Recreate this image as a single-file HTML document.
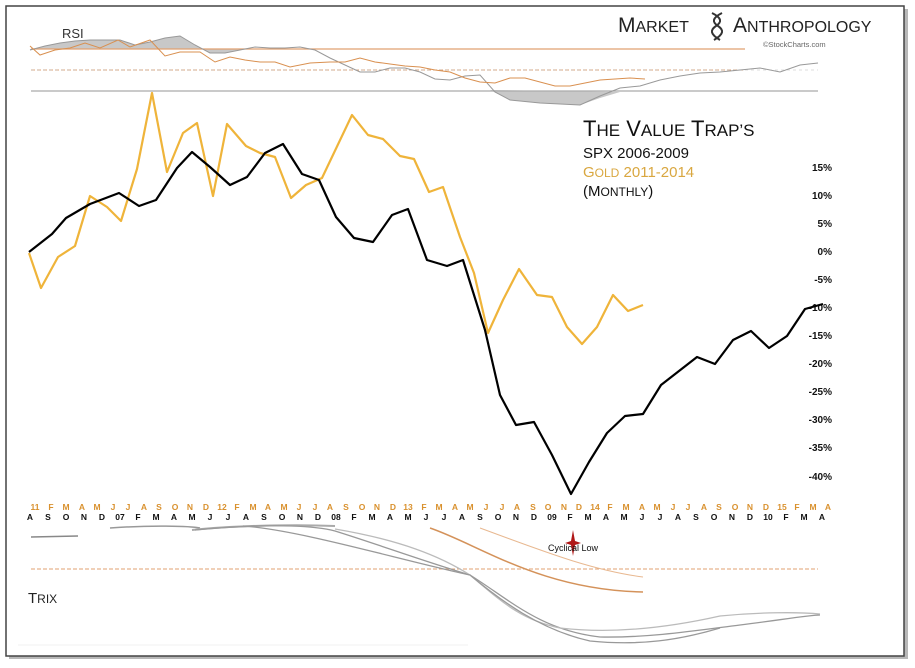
<!DOCTYPE html>
<html><head><meta charset="utf-8"><style>
body{margin:0;background:#fff;width:915px;height:668px;overflow:hidden}
svg{display:block}
text{font-family:"Liberation Sans",sans-serif}
</style></head><body>
<svg width="915" height="668" viewBox="0 0 915 668">
<rect x="9" y="9" width="899" height="650" fill="#b8b8b8"/>
<rect x="6" y="6" width="898" height="650" fill="#fff" stroke="#444" stroke-width="1.5"/>
<!-- RSI panel -->
<path d="M30,50 L45,46 L60,43 L75,41 L90,40 L105,40 L120,40 L135,45 L150,42 L165,38 L180,36 L195,45 L210,53 L225,53 L240,50 L250,49 L30,49 Z" fill="#c8c8c8"/>
<path d="M490,90 L510,100 L540,103 L580,105 L600,98 L620,92 Z" fill="#c8c8c8"/>
<line x1="31" y1="49" x2="745" y2="49" stroke="#e0a070" stroke-width="1.2"/>
<line x1="31" y1="70" x2="745" y2="70" stroke="#e0a070" stroke-width="1" stroke-dasharray="4,2"/>
<line x1="31" y1="91" x2="818" y2="91" stroke="#aaa" stroke-width="1.2"/>
<line x1="31" y1="70" x2="818" y2="70" stroke="#bbb" stroke-width="0.6" stroke-dasharray="3,3"/>
<polyline fill="none" stroke="#999" stroke-width="1" points="30,50 45,46 60,43 75,41 90,40 105,40 120,40 135,45 150,42 165,38 180,36 195,45 210,53 225,53 240,50 255,47 270,48 285,48 300,47 315,50 330,58 345,65 360,72 375,72 390,68 405,68 420,72 435,79 450,80 465,76 480,75 495,92 510,100 540,103 580,105 600,96 620,88 640,86 660,80 680,76 700,73 720,72 740,70 760,68 780,72 800,65 818,63"/>
<polyline fill="none" stroke="#d99050" stroke-width="1" points="30,46 40,55 55,50 70,48 85,43 100,48 118,40 130,47 150,40 165,56 180,52 200,52 215,62 230,57 245,60 260,62 275,62 290,67 310,63 330,62 345,62 360,58 375,62 390,64 405,66 420,67 435,70 450,72 465,78 480,82 495,83 510,78 525,78 540,82 555,86 570,86 585,83 600,80 615,79 630,78 645,79"/>
<text x="62" y="38" font-size="13" fill="#333">RSI</text>
<!-- title logo -->
<text x="618" y="32" font-family="Liberation Serif,serif" font-size="21" fill="#222">M<tspan font-size="16">ARKET</tspan></text>
<path d="M712,13 C722,18 722,22 716,26 C710,30 710,34 720,40 M722,13 C712,18 712,22 718,26 C724,30 724,34 714,40" stroke="#333" stroke-width="2" fill="none"/>
<text x="733" y="32" font-family="Liberation Serif,serif" font-size="21" fill="#222">A<tspan font-size="16">NTHROPOLOGY</tspan></text>
<text x="763" y="47" font-size="7.5" fill="#666">©StockCharts.com</text>
<!-- text block -->
<text x="583" y="136" font-family="Liberation Serif,serif" font-size="22" fill="#111">T<tspan font-size="17">HE</tspan> V<tspan font-size="17">ALUE</tspan> T<tspan font-size="17">RAP’S</tspan></text>
<text x="583" y="158" font-size="15" fill="#111">SPX 2006-2009</text>
<text x="583" y="177" font-size="15" fill="#d9a740">G<tspan font-size="12">OLD</tspan> 2011-2014</text>
<text x="583" y="196" font-size="15" fill="#111">(M<tspan font-size="12">ONTHLY</tspan>)</text>
<!-- right axis -->
<g font-size="10" font-weight="bold" fill="#111" text-anchor="end">
<text x="832" y="171">15%</text><text x="832" y="199">10%</text><text x="832" y="227">5%</text><text x="832" y="255">0%</text><text x="832" y="283">-5%</text><text x="832" y="311">-10%</text><text x="832" y="339">-15%</text><text x="832" y="367">-20%</text><text x="832" y="395">-25%</text><text x="832" y="423">-30%</text><text x="832" y="451">-35%</text><text x="832" y="480">-40%</text>
</g>
<!-- gold -->
<polyline fill="none" stroke="#efb43a" stroke-width="2.2" stroke-linejoin="round" points="29,253 41,288 58,257 75,246 90,196 107,207 121,221 137,169 152,93 167,172 183,133 197,123 213,196 227,124 246,146 260,153 275,157 291,198 306,185 322,178 352,115 368,135 383,139 400,156 414,159 429,192 443,187 460,237 474,273 488,333 503,300 519,269 537,295 552,297 567,327 582,344 597,327 613,295 628,311 643,305"/>
<!-- spx -->
<polyline fill="none" stroke="#000" stroke-width="2.2" stroke-linejoin="round" points="29,252 52,234 66,218 90,204 119,193 139,206 156,200 177,168 192,152 210,167 230,185 247,177 265,153 283,144 302,174 319,180 336,217 354,238 373,242 392,215 408,209 427,260 447,266 463,260 485,330 500,395 516,425 534,422 552,455 571,494 589,462 607,433 625,416 643,414 661,385 679,371 697,357 715,364 733,340 751,331 769,348 787,336 805,309 823,304"/>
<!-- month labels -->
<g font-size="8.5" font-weight="bold" fill="#d9912e" text-anchor="middle" font-family="Liberation Sans Narrow,Liberation Sans,sans-serif">
<text x="35" y="510">11</text><text x="51" y="510">F</text><text x="66" y="510">M</text><text x="82" y="510">A</text><text x="97" y="510">M</text><text x="113" y="510">J</text><text x="128" y="510">J</text><text x="144" y="510">A</text><text x="159" y="510">S</text><text x="175" y="510">O</text><text x="190" y="510">N</text><text x="206" y="510">D</text>
<text x="222" y="510">12</text><text x="237" y="510">F</text><text x="253" y="510">M</text><text x="268" y="510">A</text><text x="284" y="510">M</text><text x="299" y="510">J</text><text x="315" y="510">J</text><text x="330" y="510">A</text><text x="346" y="510">S</text><text x="362" y="510">O</text><text x="377" y="510">N</text><text x="393" y="510">D</text>
<text x="408" y="510">13</text><text x="424" y="510">F</text><text x="439" y="510">M</text><text x="455" y="510">A</text><text x="470" y="510">M</text><text x="486" y="510">J</text><text x="502" y="510">J</text><text x="517" y="510">A</text><text x="533" y="510">S</text><text x="548" y="510">O</text><text x="564" y="510">N</text><text x="579" y="510">D</text>
<text x="595" y="510">14</text><text x="610" y="510">F</text><text x="626" y="510">M</text><text x="642" y="510">A</text><text x="657" y="510">M</text><text x="673" y="510">J</text><text x="688" y="510">J</text><text x="704" y="510">A</text><text x="719" y="510">S</text><text x="735" y="510">O</text><text x="750" y="510">N</text><text x="766" y="510">D</text>
<text x="782" y="510">15</text><text x="797" y="510">F</text><text x="813" y="510">M</text><text x="828" y="510">A</text>
</g>
<g font-size="8.5" font-weight="bold" fill="#111" text-anchor="middle" font-family="Liberation Sans Narrow,Liberation Sans,sans-serif">
<text x="30" y="520">A</text><text x="48" y="520">S</text><text x="66" y="520">O</text><text x="84" y="520">N</text><text x="102" y="520">D</text><text x="120" y="520">07</text><text x="138" y="520">F</text><text x="156" y="520">M</text><text x="174" y="520">A</text><text x="192" y="520">M</text><text x="210" y="520">J</text><text x="228" y="520">J</text><text x="246" y="520">A</text><text x="264" y="520">S</text><text x="282" y="520">O</text><text x="300" y="520">N</text><text x="318" y="520">D</text>
<text x="336" y="520">08</text><text x="354" y="520">F</text><text x="372" y="520">M</text><text x="390" y="520">A</text><text x="408" y="520">M</text><text x="426" y="520">J</text><text x="444" y="520">J</text><text x="462" y="520">A</text><text x="480" y="520">S</text><text x="498" y="520">O</text><text x="516" y="520">N</text><text x="534" y="520">D</text>
<text x="552" y="520">09</text><text x="570" y="520">F</text><text x="588" y="520">M</text><text x="606" y="520">A</text><text x="624" y="520">M</text><text x="642" y="520">J</text><text x="660" y="520">J</text><text x="678" y="520">A</text><text x="696" y="520">S</text><text x="714" y="520">O</text><text x="732" y="520">N</text><text x="750" y="520">D</text>
<text x="768" y="520">10</text><text x="786" y="520">F</text><text x="804" y="520">M</text><text x="822" y="520">A</text>
</g>
<!-- TRIX -->
<line x1="31" y1="569" x2="818" y2="569" stroke="#e0a070" stroke-width="1" stroke-dasharray="4,2"/>
<line x1="18" y1="645" x2="468" y2="645" stroke="#f2f2f2" stroke-width="1"/>
<path d="M31,537 L78,536" stroke="#888" stroke-width="1.5"/>
<path d="M110,528 C150,525 190,526 200,528" stroke="#999" stroke-width="1.5" fill="none"/>
<path d="M192,530 C230,526 290,524 335,526" stroke="#aaa" stroke-width="2" fill="none"/>
<path d="M195,530 C280,522 320,527 335,531 C380,545 420,560 470,575 C510,600 540,630 600,637 C650,638 700,630 740,625 C780,620 810,615 820,615" stroke="#999" stroke-width="1.3" fill="none"/>
<path d="M335,529 C400,540 440,556 470,575 C500,600 520,620 560,628 C620,635 680,625 720,616 C760,612 800,612 820,614" stroke="#bbb" stroke-width="1.3" fill="none"/>
<path d="M243,526 C300,530 400,560 470,575 C500,600 540,630 590,641 C640,646 680,640 720,628" stroke="#999" stroke-width="1.3" fill="none"/>
<path d="M430,528 C480,545 540,590 643,592" stroke="#d4925a" stroke-width="1.5" fill="none"/>
<path d="M480,528 C540,550 590,570 643,577" stroke="#e8b890" stroke-width="1" fill="none"/>
<text x="28" y="603" font-family="Liberation Serif,serif" font-size="15" fill="#222">T<tspan font-size="12">RIX</tspan></text>
<!-- cyclical low -->
<path d="M573,530 L575,541 L581,543 L575,545 L573,556 L571,545 L565,543 L571,541 Z" fill="#b01818"/>
<text x="548" y="551" font-size="9" fill="#111">Cyclical Low</text>
</svg>
</body></html>
